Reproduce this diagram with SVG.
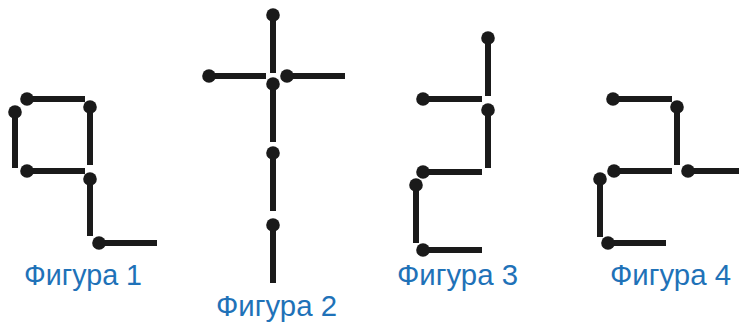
<svg xmlns="http://www.w3.org/2000/svg" width="739" height="323" viewBox="0 0 739 323">
<style>
.m{stroke:#1a1a1a;stroke-width:6;stroke-linecap:butt;fill:none}
.h{fill:#1a1a1a}
.lbl{font-family:"Liberation Sans",Arial,sans-serif;font-size:29px;fill:#1f72b8}
</style>
<rect width="739" height="323" fill="#ffffff"/>
<g id="figure1">
<path class="m" d="M27 99H85M15 112V168M90 107V165M27 171H85M90 179V236M99 243H157"/>
<g class="h"><circle cx="27" cy="99" r="6.8"/><circle cx="15" cy="112" r="6.8"/><circle cx="90" cy="107" r="6.8"/><circle cx="27" cy="171" r="6.8"/><circle cx="90" cy="179" r="6.8"/><circle cx="99" cy="243" r="6.8"/></g>
<text class="lbl" x="24" y="285" textLength="118" lengthAdjust="spacingAndGlyphs">Фигура 1</text>
</g>
<g id="figure2">
<path class="m" d="M273 15V73M209 76H266M287 76H345M273 84V142M273 153V211M273 225V283"/>
<g class="h"><circle cx="273" cy="15" r="6.8"/><circle cx="209" cy="76" r="6.8"/><circle cx="287" cy="76" r="6.8"/><circle cx="273" cy="84" r="6.8"/><circle cx="273" cy="153" r="6.8"/><circle cx="273" cy="225" r="6.8"/></g>
<text class="lbl" x="216" y="316" textLength="121" lengthAdjust="spacingAndGlyphs">Фигура 2</text>
</g>
<g id="figure3">
<path class="m" d="M488 38V96M423 99H482M488 110V168M423 172H482M416 185V243M423 250H482"/>
<g class="h"><circle cx="488" cy="38" r="6.8"/><circle cx="423" cy="99" r="6.8"/><circle cx="488" cy="110" r="6.8"/><circle cx="423" cy="172" r="6.8"/><circle cx="416" cy="185" r="6.8"/><circle cx="423" cy="250" r="6.8"/></g>
<text class="lbl" x="397" y="285" textLength="121" lengthAdjust="spacingAndGlyphs">Фигура 3</text>
</g>
<g id="figure4">
<path class="m" d="M613 99H672M677 107V165M614 171H672M688 171H739M600 179V237M608 243H666"/>
<g class="h"><circle cx="613" cy="99" r="6.8"/><circle cx="677" cy="107" r="6.8"/><circle cx="614" cy="171" r="6.8"/><circle cx="688" cy="171" r="6.8"/><circle cx="600" cy="179" r="6.8"/><circle cx="608" cy="243" r="6.8"/></g>
<text class="lbl" x="610" y="285" textLength="121" lengthAdjust="spacingAndGlyphs">Фигура 4</text>
</g>
<g id="connectors"/>
</svg>
